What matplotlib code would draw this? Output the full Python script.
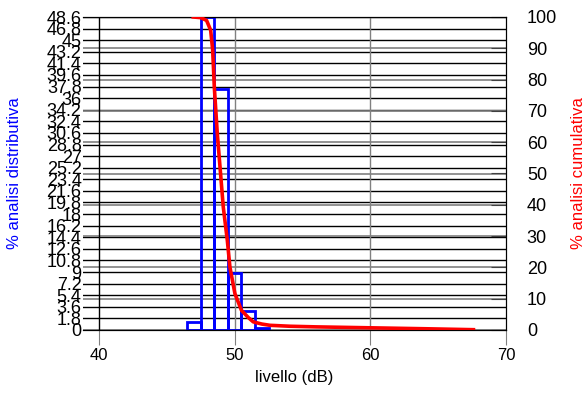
import numpy as np
import matplotlib
matplotlib.use("Agg")
import matplotlib.pyplot as plt

plt.rcParams['font.family'] = ['Liberation Sans', 'DejaVu Sans']

# distributive histogram (1 dB classes)
bin_centers = [47, 48, 49, 50, 51, 52]
dist_pct = [1.2, 48.6, 37.4, 8.9, 3.0, 0.3]

# cumulative curve (% exceeding level)
cum_level = [46.95, 47.5, 47.93, 48.23, 48.38, 48.5, 48.72, 48.92, 49.16, 49.46,
             49.65, 50.02, 50.5, 51.0, 51.37, 52.0, 52.6, 54.07, 56.0, 60.0, 64.0, 67.6]
cum_pct = [100, 99.8, 98.9, 95.8, 89.4, 77.6, 62.7, 52.1, 39.3, 28.6,
           20.1, 11.6, 6.3, 4.0, 2.6, 1.9, 1.5, 1.2, 1.0, 0.7, 0.4, 0.1]

left_ticks = np.round(np.arange(0, 48.61, 1.8), 1)
left_labels = ["%g" % v for v in left_ticks]
right_ticks = list(range(0, 101, 10))
x_ticks = [40, 50, 60, 70]

fig = plt.figure(figsize=(5.84, 3.93), dpi=100)
ax = fig.add_axes([83 / 584, 1 - 330 / 393, (506 - 83) / 584, (330 - 17) / 393])
ymax = 48.6
ax.set_xlim(40 - 16 / 13.57, 70)
ax.set_ylim(0, ymax)

# gridlines
for v in left_ticks:
    ax.axhline(v, color='black', lw=1, zorder=1)
for v in right_ticks:
    ax.axhline(v * ymax / 100, color='#808080', lw=1.2, zorder=1)
ax.axvline(40, color='black', lw=1, zorder=1)
for v in [50, 60]:
    ax.axvline(v, color='#808080', lw=1, zorder=1)

ax.bar(bin_centers, dist_pct, width=1, fill=False, edgecolor='#0000ff', lw=2, zorder=2)

ax.set_yticks(left_ticks)
ax.set_yticklabels(left_labels)
ax.tick_params(axis='y', length=0, pad=1, labelsize=13)
ax.set_xticks(x_ticks)
ax.tick_params(axis='x', direction='out', length=11, color='#808080', labelsize=12, pad=2)
ax.spines['left'].set_visible(False)
ax.set_xlabel("livello (dB)", fontsize=12, labelpad=5)
ax.set_ylabel("% analisi distributiva", color='#0000ff', fontsize=12)
ax.yaxis.set_label_coords(-0.145, 0.5)

ax2 = ax.twinx()
ax2.set_ylim(0, 100)
ax2.plot(cum_level, cum_pct, color='#ff0000', lw=2.6, zorder=3)
ax2.set_yticks(right_ticks)
ax2.tick_params(axis='y', direction='in', length=11, color='#404040', labelsize=13, pad=15)
ax2.spines['left'].set_visible(False)
ax2.set_ylabel("% analisi cumulativa", color='#ff0000', fontsize=12)
ax2.yaxis.set_label_coords(1.153, 0.5)

fig.savefig("out.png", dpi=100)
